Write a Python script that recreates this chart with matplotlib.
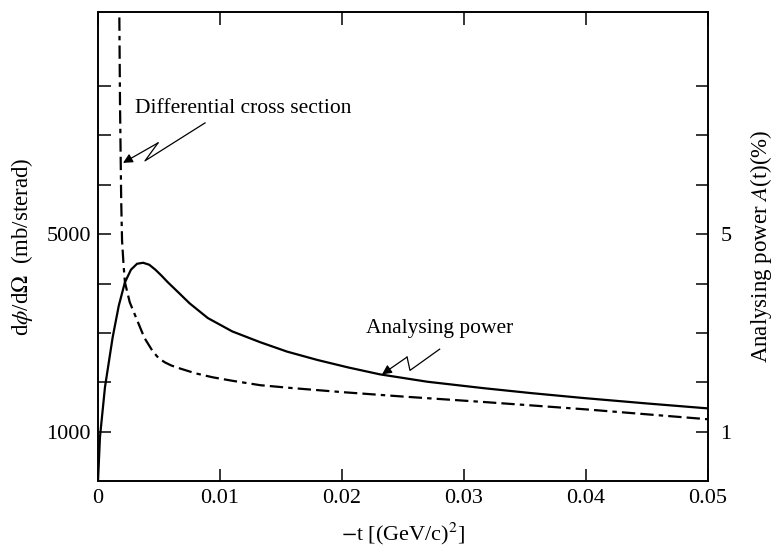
import matplotlib
matplotlib.use('Agg')
import matplotlib.pyplot as plt

plt.rcParams['font.family'] = ['Liberation Serif', 'DejaVu Serif']
plt.rcParams['mathtext.fontset'] = 'stix'

# differential cross section (mb/sterad) vs -t
xs_t = [0.00170, 0.00180, 0.00190, 0.00197, 0.00210, 0.00221, 0.0026, 0.0032,
        0.0038, 0.0045, 0.0050, 0.0055, 0.0060, 0.0067, 0.0080, 0.0094, 0.0110,
        0.0133, 0.0160, 0.0200, 0.0250, 0.0316, 0.0350, 0.0400, 0.0450, 0.0500]
xs_val = [11000, 7700, 5680, 4870, 4350, 4020, 3620, 3260,
          2900, 2620, 2480, 2400, 2340, 2280, 2180, 2100, 2030,
          1940, 1880, 1800, 1710, 1600, 1540, 1450, 1350, 1250]

# analysing power (%) vs -t
ap_t = [0.0, 0.00016, 0.00057, 0.0012, 0.0017, 0.0022, 0.0027, 0.0032, 0.0037,
        0.0042, 0.0047, 0.0052, 0.0057, 0.0065, 0.0075, 0.0090, 0.0110,
        0.0133, 0.0155, 0.0180, 0.0205, 0.0231, 0.0270, 0.0316, 0.0355,
        0.0398, 0.0450, 0.0500]
ap_val = [0.0, 0.89, 1.90, 2.91, 3.55, 4.02, 4.28, 4.40, 4.42,
          4.38, 4.28, 4.16, 4.03, 3.84, 3.60, 3.30, 3.03,
          2.81, 2.62, 2.45, 2.30, 2.16, 2.01, 1.88, 1.78,
          1.68, 1.57, 1.47]

x_ticks = [0, 0.01, 0.02, 0.03, 0.04, 0.05]
x_labels = ['0', '0.01', '0.02', '0.03', '0.04', '0.05']
left_ticks = [1000, 2000, 3000, 4000, 5000, 6000, 7000, 8000]
left_labels = ['1000', '', '', '', '5000', '', '', '']
right_ticks = [1, 2, 3, 4, 5, 6, 7, 8]
right_labels = ['1', '', '', '', '5', '', '', '']

fig = plt.figure(figsize=(7.73, 5.5), dpi=100)
ax = fig.add_axes([0.1268, 0.1255, 0.7892, 0.8527])
ax2 = ax.twinx()

ax.plot(xs_t, xs_val, color='black', lw=1.6,
        linestyle=(0, (6, 2.3, 6, 2.3, 2, 2.3)))
ax2.plot(ap_t, ap_val, color='black', lw=1.6)

ax.set_xlim(0, 0.05)
ax.set_ylim(0, 9500)
ax2.set_ylim(0, 9.5)

ax.set_xticks(x_ticks)
ax.set_xticklabels(x_labels)
ax.set_yticks(left_ticks)
ax.set_yticklabels(left_labels)
ax2.set_yticks(right_ticks)
ax2.set_yticklabels(right_labels)

ax.tick_params(axis='x', direction='in', length=9, width=1.1, top=True,
               labelsize=16, pad=6)
ax.tick_params(axis='y', direction='in', length=9, width=1.1, labelsize=16, pad=5)
ax2.tick_params(axis='y', direction='in', length=9, width=1.1, labelsize=16, pad=9)
for a in (ax, ax2):
    for s in a.spines.values():
        s.set_linewidth(1.2)

ax.set_xlabel(r'$-$t [(GeV/c)$^2$]', fontsize=16, labelpad=9)
ax.set_ylabel(r'd$\phi$/d$\Omega$  (mb/sterad)', fontsize=16.5, labelpad=8)
ax2.set_ylabel(r'Analysing power $A$(t)(%)', fontsize=16.5, labelpad=12)

# labels with lightning arrows
ax.text(0.00303, 7455, 'Differential cross section', fontsize=15.5, va='baseline')
ax.plot([0.00877, 0.00385, 0.00492], [7253, 6485, 6848], color='black', lw=0.9)
ax.annotate('', xy=(0.00205, 6444), xytext=(0.00492, 6848),
            arrowprops=dict(arrowstyle='-|>', color='black', lw=0.9,
                            mutation_scale=14, shrinkA=0, shrinkB=0))

ax2.text(0.0280, 3.0, 'Analysing power', fontsize=15.5, ha='center', va='baseline')
ax2.plot([0.0280, 0.02557, 0.02533], [2.67, 2.24, 2.51], color='black', lw=0.9)
ax2.annotate('', xy=(0.02328, 2.16), xytext=(0.02533, 2.51),
             arrowprops=dict(arrowstyle='-|>', color='black', lw=0.9,
                             mutation_scale=14, shrinkA=0, shrinkB=0))

fig.savefig('out.png', dpi=100)
